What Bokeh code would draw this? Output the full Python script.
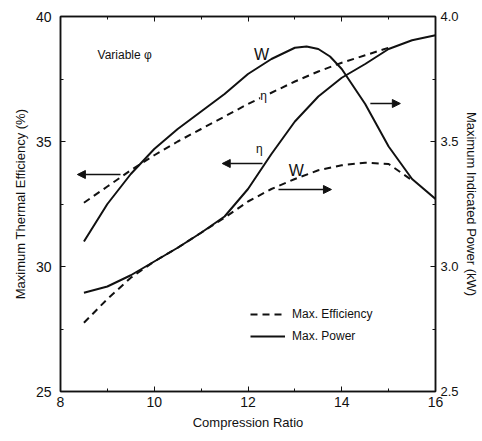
from bokeh.plotting import figure
from bokeh.models import (Range1d, LinearAxis, SingleIntervalTicker, PrintfTickFormatter,
                          Label, Arrow, NormalHead, Legend, LegendItem)
from bokeh.embed import file_html
from bokeh.resources import INLINE

# ---------------- data ----------------
cr_max_power = [8.5, 9.0, 9.5, 10.0, 10.5, 11.0, 11.5, 12.0, 12.5, 13.0, 13.5, 14.0, 14.5, 15.0, 15.5, 16.0]
eff_max_power = [28.95, 29.2, 29.65, 30.2, 30.75, 31.35, 32.0, 33.1, 34.5, 35.8, 36.8, 37.55, 38.1, 38.7, 39.05, 39.25]

cr_power_max_power = [8.5, 9.0, 9.5, 10.0, 10.5, 11.0, 11.5, 12.0, 12.5, 13.0, 13.25, 13.5, 13.75, 14.0, 14.5, 15.0, 15.5, 16.0]
power_max_power = [3.10, 3.25, 3.37, 3.47, 3.55, 3.62, 3.69, 3.77, 3.83, 3.875, 3.88, 3.87, 3.84, 3.79, 3.65, 3.48, 3.35, 3.27]

cr_eff_max_eff = [8.5, 9.0, 9.5, 10.0, 10.5, 11.0, 11.5, 12.0, 12.5, 13.0, 13.5, 14.0, 14.5, 15.0]
eff_max_eff = [32.55, 33.2, 33.85, 34.45, 35.0, 35.5, 36.0, 36.5, 36.95, 37.4, 37.8, 38.15, 38.45, 38.75]

cr_power_max_eff = [8.5, 9.0, 9.5, 10.0, 10.5, 11.0, 11.5, 12.0, 12.5, 13.0, 13.5, 14.0, 14.5, 15.0, 15.5]
power_max_eff = [2.775, 2.87, 2.955, 3.02, 3.075, 3.135, 3.195, 3.26, 3.31, 3.35, 3.385, 3.405, 3.415, 3.41, 3.345]

x_label = "Compression Ratio"
y_left_label = "Maximum Thermal Efficiency (%)"
y_right_label = "Maximum Indicated Power (kW)"
legend_labels = ["Max. Efficiency", "Max. Power"]

FONT = "Liberation Sans"
INK = "#111111"

p = figure(width=482, height=441, output_backend="svg", toolbar_location=None,
           x_range=Range1d(8, 16), y_range=Range1d(25, 40),
           min_border_left=60, min_border_right=47, min_border_top=16, min_border_bottom=50,
           x_axis_label=x_label, y_axis_label=y_left_label)
p.extra_y_ranges = {"power": Range1d(2.5, 4.0)}
p.xgrid.visible = False
p.ygrid.visible = False
p.outline_line_color = INK
p.outline_line_width = 1.5
p.background_fill_color = "white"
p.border_fill_color = "white"

right_axis = LinearAxis(y_range_name="power", axis_label=y_right_label)
p.add_layout(right_axis, "right")
top_axis = LinearAxis()
p.add_layout(top_axis, "above")

p.xaxis.ticker = SingleIntervalTicker(interval=2, num_minor_ticks=2)
p.yaxis[0].ticker = SingleIntervalTicker(interval=5, num_minor_ticks=2)
right_axis.ticker = SingleIntervalTicker(interval=0.5, num_minor_ticks=2)
right_axis.formatter = PrintfTickFormatter(format="%.1f")

for ax in [p.xaxis[0], p.xaxis[1], p.yaxis[0], p.yaxis[1]]:
    ax.axis_line_color = INK
    ax.axis_line_width = 1.5
    ax.major_tick_in = 5
    ax.major_tick_out = 0
    ax.minor_tick_in = 3
    ax.minor_tick_out = 0
    ax.major_tick_line_color = INK
    ax.minor_tick_line_color = INK
    ax.major_label_text_font = FONT
    ax.major_label_text_font_size = "14px"
    ax.major_label_text_color = INK
    ax.axis_label_text_font = FONT
    ax.axis_label_text_font_size = "13px"
    ax.axis_label_text_font_style = "normal"
    ax.axis_label_text_color = INK

top_axis.major_label_text_font_size = "8px"
top_axis.major_label_text_color = None
top_axis.major_label_standoff = 0
top_axis.axis_label = None

p.xaxis[0].major_label_standoff = 8
p.xaxis[0].axis_label_standoff = 7
p.yaxis[0].major_label_standoff = 9
p.yaxis[0].axis_label_standoff = 5
right_axis.major_label_text_font_size = "13px"
right_axis.major_label_standoff = 5
right_axis.axis_label_standoff = 2

# ---------------- curves ----------------
r_eff_mp = p.line(cr_max_power, eff_max_power, line_color=INK, line_width=2)
r_pow_mp = p.line(cr_power_max_power, power_max_power, line_color=INK, line_width=2, y_range_name="power")
r_eff_me = p.line(cr_eff_max_eff, eff_max_eff, line_color=INK, line_width=2, line_dash="7 5")
r_pow_me = p.line(cr_power_max_eff, power_max_eff, line_color=INK, line_width=2, line_dash="7 5",
                  y_range_name="power")

# ---------------- annotations ----------------
p.add_layout(Label(x=8.79, y=38.48, text="Variable \u03c6", text_font=FONT, text_font_size="12px",
                   text_color=INK, text_baseline="middle", text_align="left"))

p.add_layout(Label(x=12.29, y=38.48, text="W", text_font=FONT, text_font_size="16px",
                   text_color=INK, text_baseline="middle", text_align="center"))
p.add_layout(Label(x=12.33, y=36.84, text="\u03b7", text_font=FONT, text_font_size="12px",
                   text_color=INK, text_baseline="middle", text_align="center",
                   background_fill_color="white"))
p.add_layout(Label(x=12.24, y=34.7, text="\u03b7", text_font=FONT, text_font_size="12px",
                   text_color=INK, text_baseline="middle", text_align="center"))
p.add_layout(Label(x=13.03, y=3.384, y_range_name="power", text="W", text_font=FONT,
                   text_font_size="16px", text_color=INK, text_baseline="middle", text_align="center"))


def arrow(x0, x1, y, yr="default"):
    p.add_layout(Arrow(x_start=x0, x_end=x1, y_start=y, y_end=y, y_range_name=yr,
                       line_color=INK, line_width=1.5,
                       end=NormalHead(size=8, fill_color=INK, line_color=INK)))


arrow(9.28, 8.36, 33.68)
arrow(12.31, 11.45, 34.12)
arrow(14.61, 15.25, 3.652, "power")
arrow(12.65, 13.78, 3.308, "power")

legend = Legend(items=[LegendItem(label=legend_labels[0], renderers=[r_eff_me]),
                       LegendItem(label=legend_labels[1], renderers=[r_eff_mp])],
                location=(190, 47), orientation="vertical",
                glyph_width=35, glyph_height=16, label_height=16, spacing=6,
                label_standoff=7, padding=0, margin=0,
                label_text_font=FONT, label_text_font_size="12px", label_text_color=INK,
                border_line_color=None, background_fill_alpha=0)
p.add_layout(legend)

open("out.html", "w").write(file_html(p, INLINE))
